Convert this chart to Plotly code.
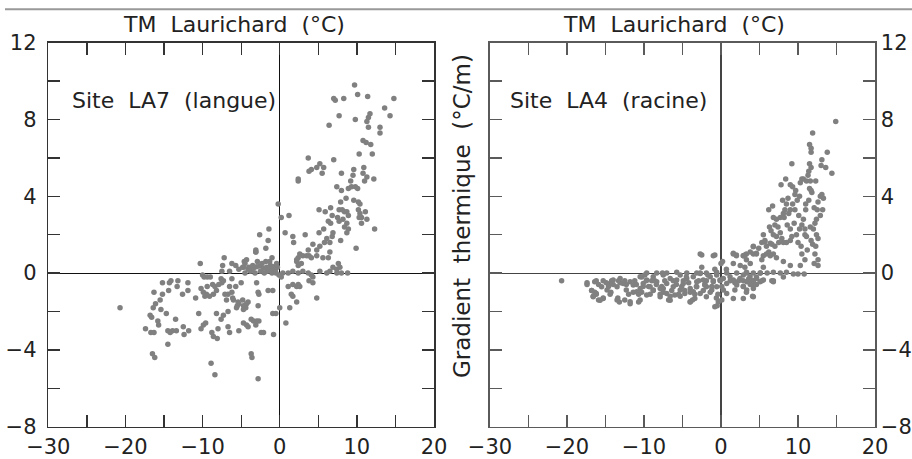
import plotly.graph_objects as go

# ---------------- data ----------------
# Site LA7 (langue): (TM Laurichard °C, gradient °C/m)
la7_upper = [
    (9.7, 9.8), (10.1, 9.3), (11.4, 9.2), (7.0, 9.1), (7.2, 9.0), (8.3, 9.1), (14.8, 9.1), (13.6, 8.6),
    (14.3, 8.2), (7.7, 8.2), (9.8, 8.0), (11.7, 8.3), (11.5, 8.1), (11.3, 7.9), (6.4, 7.7), (11.5, 7.6),
    (13.0, 7.6), (13.0, 7.3), (10.8, 6.9), (11.2, 6.8), (11.8, 6.7), (10.3, 6.2), (12.0, 6.2), (3.7, 6.0),
    (7.0, 5.9), (5.2, 5.7), (4.8, 5.5), (4.1, 5.4), (3.8, 5.3), (5.7, 5.5), (5.5, 5.2), (2.4, 4.9),
    (2.4, 4.8), (8.0, 5.2), (9.6, 5.4), (9.5, 5.1), (10.9, 5.5), (10.8, 5.2), (11.3, 5.0), (12.2, 4.9),
    (9.2, 4.8), (11.0, 4.8), (7.4, 4.5), (8.0, 4.3), (8.9, 4.4), (9.3, 4.5), (9.8, 4.5), (10.1, 4.4),
    (8.6, 3.9), (7.9, 3.7), (9.6, 3.8), (10.2, 3.7), (10.4, 3.6), (5.1, 3.3), (5.9, 3.2), (6.6, 3.4),
    (7.7, 3.3), (8.1, 3.3), (8.4, 3.2), (8.7, 3.2), (8.9, 3.0), (6.8, 3.0), (6.3, 2.7), (6.6, 2.6),
    (7.5, 2.9), (7.7, 2.7), (8.2, 2.8), (8.7, 2.6), (10.2, 3.3), (10.4, 3.1), (10.3, 2.9), (10.6, 2.9),
    (11.1, 3.2), (11.3, 2.8), (10.6, 2.6), (12.3, 2.3), (-0.2, 3.6), (0.2, 2.9), (1.2, 3.0), (0.7, 2.1),
    (1.7, 1.9), (1.8, 1.6), (3.3, 2.0), (5.1, 2.1), (5.7, 2.3), (6.9, 2.1), (6.8, 1.9), (6.1, 1.8),
    (5.8, 1.6), (6.5, 1.6), (7.9, 1.7), (8.7, 2.1), (8.9, 2.3), (8.4, 2.4), (9.9, 1.3), (4.3, 1.5),
    (3.7, 1.2), (4.8, 1.2), (5.2, 1.4), (3.8, 0.9), (4.1, 0.8), (3.5, 0.9), (3.0, 0.9), (2.6, 1.0),
    (2.4, 0.8), (2.2, 0.6), (2.8, 0.5), (4.8, 0.9), (5.6, 0.8), (6.5, 1.1), (6.3, 0.8), (7.6, 0.5),
    (7.8, 0.3), (6.9, 0.3), (7.4, 0.2),
]
la7_near_zero = [
    (0.4, 0.0), (1.1, 0.0), (1.7, 0.1), (2.4, 0.0), (3.0, 0.1), (3.7, 0.0), (4.1, -0.1), (4.3, -0.2),
    (5.2, 0.1), (6.1, 0.0), (6.5, 0.1), (7.4, 0.0), (8.0, 0.0), (8.8, 0.0),
    (-1.3, 0.3), (-1.1, 0.2), (-0.6, 0.1), (-0.4, 0.5), (-1.3, 0.6), (0.2, -0.2),
    (-2.6, 2.0), (-1.4, 2.3), (-1.5, 1.7), (-3.1, 1.2), (-3.1, 1.1), (-1.8, 1.3),
    (-3.8, 0.1), (-3.2, 0.0), (-2.5, 0.1), (-2.0, 0.0), (-1.6, 0.1), (-1.0, 0.0), (-0.5, 0.0),
    (-2.3, 0.5), (-1.8, 0.6), (-0.3, 0.3), (-3.5, 0.4), (-2.9, 0.6), (-1.2, 0.4), (-0.1, -0.1),
    (-4.0, 0.3), (-5.3, 0.2), (-5.7, 0.4), (-6.2, 0.5), (-4.6, 0.6), (-4.8, 0.3),
    (-3.4, 0.25), (-3.0, 0.33), (-2.6, 0.37), (-2.1, 0.25), (-1.7, 0.3), (-0.8, 0.33), (-0.6, 0.12),
]
la7_lower = [
    (-20.7, -1.8), (-17.4, -2.9), (-16.7, -3.1), (-16.3, -3.1), (-16.5, -4.2), (-16.2, -4.4),
    (-16.8, -2.2), (-16.6, -2.3), (-16.4, -1.8), (-16.1, -1.6), (-16.3, -1.0), (-15.8, -2.5),
    (-15.7, -2.7), (-15.5, -1.4), (-15.4, -1.9), (-15.2, -1.1), (-15.2, -0.5), (-14.7, -2.1),
    (-14.5, -3.7), (-14.5, -3.0), (-14.2, -3.1), (-13.9, -3.0), (-13.4, -3.0), (-14.4, -0.9),
    (-14.3, -0.5), (-14.1, -0.4), (-13.5, -2.4), (-13.2, -0.4), (-13.3, -0.7), (-12.6, -1.1),
    (-12.5, -2.8), (-12.4, -3.2), (-11.9, -0.5), (-11.9, -0.9), (-11.8, -3.0), (-10.9, -1.3),
    (-10.5, -2.1), (-10.3, 0.5), (-10.2, -2.9), (-9.9, -2.7), (-9.6, -2.6), (-10.2, -0.8),
    (-9.9, -1.0), (-9.7, -1.2), (-9.5, -1.1), (-9.4, -0.7), (-10.0, -0.1), (-9.8, -0.2),
    (-9.4, -0.2), (-9.0, -0.2), (-8.8, -3.1), (-8.6, -3.3), (-8.1, -3.4), (-8.9, -4.7),
    (-8.4, -5.3), (-8.7, -0.6), (-8.4, -0.7), (-7.9, -0.6), (-8.2, -0.9), (-8.6, -1.1),
    (-9.1, -1.2), (-8.2, -2.1), (-8.0, -2.9), (-7.6, -2.4), (-7.3, -2.2), (-7.2, 0.8),
    (-7.4, 0.4), (-7.5, 0.1), (-7.6, -0.3), (-7.3, -0.4), (-7.5, -0.5), (-7.1, -1.1),
    (-6.7, -1.1), (-6.9, -1.4), (-6.7, -2.0), (-6.7, -2.8), (-6.5, -3.1), (-6.5, 0.1),
    (-6.2, -0.3), (-6.5, -0.7), (-6.2, -1.0), (-6.1, -1.3), (-6.0, -1.4), (-5.7, -0.7),
    (-5.6, -1.8), (-5.5, -1.7), (-5.4, -1.5), (-5.3, -1.6), (-5.3, -3.0), (-5.0, -0.5),
    (-4.8, -1.4), (-4.7, -1.7), (-4.7, 0.3), (-4.5, 0.5), (-4.3, 0.7), (-4.5, 0.0),
    (-4.1, 0.2), (-4.7, -2.6), (-4.3, -2.7), (-4.1, -2.8), (-4.7, -1.9), (-4.4, -1.8),
    (-4.3, -1.6), (-4.1, -1.5), (-3.7, -4.2), (-3.6, -4.4), (-3.7, -2.4), (-3.4, -2.5),
    (-3.0, -2.5), (-2.7, -2.5), (-3.1, -2.7), (-3.1, 1.1), (-3.0, -0.5), (-2.8, -1.0),
    (-2.7, -1.1), (-2.8, -1.7), (-2.8, -5.5), (-2.4, -3.1), (-2.1, -3.1), (-1.5, -0.9),
    (-0.9, -0.9), (-1.0, 0.8), (-0.9, -2.1), (-0.5, -2.1), (-0.8, -3.2), (0.0, -1.8),
    (0.8, -2.6), (1.1, -0.7), (1.7, -0.6), (2.2, -0.7), (1.5, -1.1), (1.7, -1.2),
    (1.3, -1.8), (2.2, -1.5), (2.2, 0.7), (2.4, 0.4), (2.6, -0.7), (4.8, -1.3),
    (4.3, -0.5), (3.8, -0.4), (2.4, -0.6),
]

# Site LA4 (racine)
la4_upper = [
    (14.9, 7.9), (11.9, 7.3), (11.5, 6.7), (11.7, 6.5), (11.7, 6.3), (13.8, 6.3), (13.1, 5.9), (13.0, 5.6),
    (13.6, 5.5), (14.4, 5.2), (11.5, 5.7), (11.7, 5.5), (11.4, 5.3), (11.3, 5.1), (11.1, 4.8), (11.6, 4.8),
    (11.5, 4.4), (11.7, 4.3), (9.2, 5.7), (8.4, 4.9), (7.8, 4.6), (10.5, 4.9), (10.3, 4.7), (10.7, 4.9),
    (12.3, 4.8), (9.7, 4.3), (9.6, 4.1), (9.9, 3.8), (11.8, 4.2), (13.1, 4.1), (12.9, 4.0), (6.7, 3.5),
    (6.2, 3.3), (8.5, 3.6), (8.3, 3.3), (8.1, 3.1), (8.8, 3.1), (9.0, 3.3), (8.2, 2.9), (7.7, 2.9),
    (7.2, 2.8), (6.8, 2.9), (9.6, 3.3), (10.1, 3.0), (10.7, 2.8), (10.5, 2.5), (10.2, 2.3), (10.9, 2.3),
    (11.0, 3.3), (12.1, 3.4), (12.5, 3.3), (13.2, 3.3), (12.9, 3.0), (12.4, 2.8), (12.2, 2.6), (11.6, 2.4),
    (12.0, 2.3), (12.4, 2.0), (12.6, 1.8), (11.7, 1.7), (11.1, 1.9), (10.9, 2.0), (6.3, 2.4), (6.5, 2.2),
    (6.8, 2.0), (7.2, 1.9), (7.7, 2.1), (7.9, 1.8), (8.1, 1.6), (8.5, 1.6), (9.0, 1.7), (9.2, 1.9),
    (5.5, 2.0), (5.7, 1.7), (5.3, 1.6), (5.9, 1.4), (6.6, 1.5), (7.0, 1.4), (7.5, 1.6), (6.2, 1.1),
    (6.8, 1.0), (4.2, 1.4), (3.8, 1.1), (4.6, 1.0), (4.9, 1.3), (3.3, 1.0), (2.9, 0.9), (10.5, 1.0),
    (10.9, 0.7), (10.3, 0.4), (9.0, 0.4), (8.1, 0.6), (7.2, 0.8), (6.4, 0.9), (5.5, 0.9), (12.2, 1.0),
    (12.6, 0.7), (12.6, 0.4), (12.1, 0.5),
    (8.0, 3.8), (8.7, 3.9), (9.3, 3.6), (9.5, 2.6), (9.0, 2.3), (8.6, 2.5), (7.4, 2.4), (7.0, 2.5),
    (9.8, 2.0), (10.0, 1.6), (10.4, 1.4), (11.2, 1.2), (11.9, 1.5), (12.3, 1.4), (11.4, 3.8), (11.0, 3.6),
    (12.6, 3.7), (13.3, 3.9), (10.2, 4.0), (9.3, 4.5), (9.0, 4.6),
]
la4_band = [
    (3.3, 0.05), (4.2, 0.0), (5.1, 0.0), (6.0, 0.0), (6.8, 0.05), (7.7, 0.0), (8.5, 0.05), (9.4, -0.05),
    (10.0, -0.05), (10.8, -0.05), (2.9, -0.4), (3.6, -0.3), (4.2, -0.4), (4.6, -0.6), (3.8, -0.6),
    (2.9, -0.7), (5.3, -0.4), (6.8, -0.4), (8.1, -0.2),
    (-20.7, -0.4), (-17.4, -0.6), (-16.2, -0.4), (-15.9, -0.6), (-16.8, -0.9), (-16.4, -1.0),
    (-16.2, -1.1), (-15.9, -1.4), (-16.6, -1.2), (-15.3, -1.3), (-15.3, -0.4), (-14.9, -0.5),
    (-14.6, -0.7), (-14.2, -0.4), (-14.0, -0.6), (-14.3, -1.0), (-14.4, -1.1), (-13.4, -1.3),
    (-13.2, -1.5), (-13.3, -0.4), (-13.1, -0.5), (-12.5, -0.4), (-12.3, -0.6), (-12.0, -1.1),
    (-11.8, -1.6), (-12.5, -1.4), (-11.2, -0.4), (-11.0, -0.6), (-11.4, -1.0), (-10.7, -1.1),
    (-10.5, -1.4), (-10.7, -1.5), (-10.3, -1.0), (-10.1, -0.7), (-10.3, -0.2), (-9.9, -0.1),
    (-9.7, -0.4), (-9.4, -0.7), (-9.2, -1.1), (-8.8, -0.9), (-9.0, -0.4), (-8.6, -0.4),
    (-8.4, -0.6), (-7.9, -1.1), (-7.7, -0.7), (-7.5, -1.0), (-7.3, -0.4), (-7.6, 0.0),
    (-6.8, -1.4), (-6.6, -1.2), (-6.4, -0.9), (-6.2, -0.4), (-5.8, -0.6), (-5.5, -1.1),
    (-5.3, -1.2), (-5.1, -0.7), (-4.9, -0.4), (-4.7, -0.9), (-4.5, -0.2), (-4.2, -0.5),
    (-4.0, -1.0), (-4.0, -1.5), (-3.7, -1.4), (-3.4, -1.1), (-3.2, -0.7), (-2.9, -0.4),
    (-2.7, 0.0), (-2.7, 1.0), (-2.5, 0.3), (-2.3, -0.9), (-2.1, -0.6), (-1.9, -0.4),
    (-1.7, -0.1), (-1.4, -1.0), (-1.2, -0.7), (-1.0, 0.9), (-1.0, -0.4), (-0.8, 0.2),
    (-0.6, -1.3), (-0.5, -1.7), (-0.4, -1.1), (-0.1, -0.4), (0.0, 0.5), (0.1, -1.4),
    (0.1, -0.7), (0.2, 0.6),
    (1.6, 1.0), (2.0, 0.9), (2.9, 0.9), (3.3, 0.7), (1.6, 0.5), (2.5, 0.4), (3.1, 0.3), (3.8, 0.5),
    (4.2, 1.0), (0.7, 0.2), (1.2, -0.4), (1.8, -0.5), (2.3, -0.4), (2.9, -0.7), (3.3, -1.0),
    (3.8, -0.5), (4.2, -0.4), (4.6, -0.2), (4.1, -1.2), (5.5, 0.3), (5.3, 0.7), (5.9, 1.0),
    (6.6, -0.4), (5.1, 0.0),
]
la4_dense = [
    (-17.4, -0.5), (-16.4, -0.45), (-16.8, -0.9), (-16.2, -1.06), (-16.6, -1.23), (-15.7, -1.41),
    (-15.3, -1.32), (-15.5, -0.71), (-14.8, -0.88), (-14.4, -0.54), (-14.0, -0.36), (-13.5, -0.71),
    (-13.1, -0.28), (-12.7, -0.54), (-12.3, -0.88), (-11.8, -0.45), (-11.4, -0.62), (-10.95, -0.97),
    (-10.5, -0.19), (-10.1, -0.54), (-9.65, -0.36), (-9.2, -0.71), (-8.8, -0.19), (-8.35, -0.45),
    (-7.9, -0.8), (-7.5, -0.1), (-7.05, -0.54), (-6.6, -0.28), (-6.2, -0.71), (-5.75, -0.36),
    (-5.3, -0.1), (-4.9, -0.54), (-4.45, -0.28), (-4.0, -0.8), (-3.6, -0.19), (-3.15, -0.45),
    (-2.7, -0.02), (-2.3, -0.36), (-1.9, -0.71), (-1.4, -0.19), (-1.0, -0.45), (-0.56, -0.1),
    (-0.13, -0.36), (0.3, -0.28), (0.74, -0.54), (1.17, -0.19), (1.6, -0.36), (2.04, -0.62),
    (2.47, -0.28), (2.9, -0.1), (3.34, -0.45), (3.77, -0.19), (4.2, -0.62), (4.63, -0.28),
    (5.07, -0.45),
    (-13.5, -1.4), (-11.8, -1.49), (-9.65, -1.14), (-7.9, -1.23), (-6.6, -1.41), (-4.0, -1.49),
    (-3.4, -1.32), (-1.9, -1.23), (-0.8, -1.75), (-0.35, -1.49), (1.6, -1.32), (2.9, -1.32),
    (4.2, -1.23), (5.5, -0.36), (6.8, -0.45),
    (-2.5, 0.94), (-0.8, 0.94), (1.6, 1.03), (2.0, 0.94), (3.1, 0.94), (4.2, 1.37), (4.6, 1.03),
    (6.4, 1.55), (5.7, 1.63),
    (-10.5, -0.8), (-8.8, -0.88), (-7.05, -1.06), (-5.3, -0.88), (-3.6, -0.97), (-2.7, -1.06),
    (-1.2, -0.88), (0.3, -0.88), (-7.5, -0.8), (-6.0, -1.14), (-4.7, -1.06), (-3.15, -0.71),
    (-2.1, -0.62), (-0.56, -0.71), (0.74, -1.06), (1.8, -0.88), (3.34, -0.88), (4.2, -0.8),
    (-9.65, 0.0), (-8.35, 0.0), (-7.05, 0.0), (-5.75, 0.05), (-4.45, 0.0), (-3.15, 0.0),
    (-1.9, 0.0), (-0.56, 0.05), (0.74, 0.0), (2.04, 0.0), (3.34, 0.0),
]

x_ticks = [-30, -20, -10, 0, 10, 20]
y_ticks = [-8, -4, 0, 4, 8, 12]
x_title = "TM\u00a0 Laurichard\u00a0 (°C)"
y_title = "Gradient\u00a0 thermique\u00a0 (°C/m)"
site_labels = ["Site\u00a0 LA7\u00a0 (langue)", "Site\u00a0 LA4\u00a0 (racine)"]

la7 = la7_upper + la7_near_zero + la7_lower
la4 = la4_upper + la4_band + la4_dense
la7_temp = [p[0] for p in la7]
la7_grad = [p[1] for p in la7]
la4_temp = [p[0] for p in la4]
la4_grad = [p[1] for p in la4]

# ---------------- figure ----------------
W, H = 912, 459
FONT = "DejaVu Sans"
TXT = "#222222"


def fx(p):
    return p / W


def fy(p):
    return 1 - p / H


marker = dict(size=5.5, color="#808080", line=dict(width=0))

fig = go.Figure()
fig.add_trace(go.Scatter(x=la7_temp, y=la7_grad, mode="markers", marker=marker,
                         xaxis="x", yaxis="y", showlegend=False, hoverinfo="skip"))
fig.add_trace(go.Scatter(x=la4_temp, y=la4_grad, mode="markers", marker=marker,
                         xaxis="x2", yaxis="y2", showlegend=False, hoverinfo="skip"))


def xaxis(domain, anchor, col, zcol):
    return dict(domain=domain, anchor=anchor, range=[-30, 20], tickvals=x_ticks,
                showline=True, mirror="ticks", linecolor=col, linewidth=1.6,
                ticks="inside", ticklen=12, tickwidth=1.3, tickcolor=col,
                minor=dict(dtick=5, tick0=0, ticks="inside", ticklen=12, tickwidth=1.3,
                           tickcolor=col, showgrid=False),
                showgrid=False, zeroline=True, zerolinecolor=zcol, zerolinewidth=1.2,
                tickfont=dict(family=FONT, size=21, color=TXT), ticklabelstandoff=0,
                automargin=False, fixedrange=True)


def yaxis(domain, anchor, side, col, zcol, standoff):
    return dict(domain=domain, anchor=anchor, side=side, range=[-8, 12], tickvals=y_ticks,
                showline=True, mirror="ticks", linecolor=col, linewidth=1.6,
                ticks="inside", ticklen=12, tickwidth=1.3, tickcolor=col,
                minor=dict(dtick=2, tick0=0, ticks="inside", ticklen=12, tickwidth=1.3,
                           tickcolor=col, showgrid=False),
                showgrid=False, zeroline=True, zerolinecolor=zcol, zerolinewidth=1.2,
                tickfont=dict(family=FONT, size=21, color=TXT), ticklabelstandoff=standoff,
                automargin=False, fixedrange=True)


ydom = [fy(426.7), fy(42.7)]
fig.update_layout(
    template="none",
    width=W, height=H, autosize=False,
    margin=dict(l=0, r=0, t=0, b=0, pad=0),
    paper_bgcolor="white", plot_bgcolor="white",
    xaxis=xaxis([fx(48.3), fx(434)], "y", "#333333", "#111111"),
    yaxis=yaxis(ydom, "x", "left", "#333333", "#111111", 6),
    xaxis2=xaxis([fx(490), fx(875)], "y2", "#5a5a5a", "#444444"),
    yaxis2=yaxis(ydom, "x2", "right", "#5a5a5a", "#444444", 0),
    font=dict(family=FONT, color=TXT),
    showlegend=False,
)

ann = dict(xref="paper", yref="paper", showarrow=False, font=dict(family=FONT, size=22, color=TXT))
fig.add_annotation(text=x_title, x=fx(234), y=fy(25), xanchor="center", yanchor="middle", **ann)
fig.add_annotation(text=x_title, x=fx(674), y=fy(25), xanchor="center", yanchor="middle", **ann)
fig.add_annotation(text=site_labels[0], x=fx(70), y=fy(100), xanchor="left", yanchor="middle", **ann)
fig.add_annotation(text=site_labels[1], x=fx(508), y=fy(100), xanchor="left", yanchor="middle", **ann)
fig.add_annotation(text=y_title, x=fx(462), y=fy(216), xanchor="center", yanchor="middle",
                   textangle=-90, xref="paper", yref="paper", showarrow=False,
                   font=dict(family=FONT, size=23, color=TXT))

fig.add_shape(type="line", xref="paper", yref="paper", x0=fx(5), x1=1, y0=fy(9.3), y1=fy(9.3),
              line=dict(color="#999999", width=2))

fig.write_html("out.html", config={"displayModeBar": False, "staticPlot": True},
               post_script="document.body.style.margin='0px';")
